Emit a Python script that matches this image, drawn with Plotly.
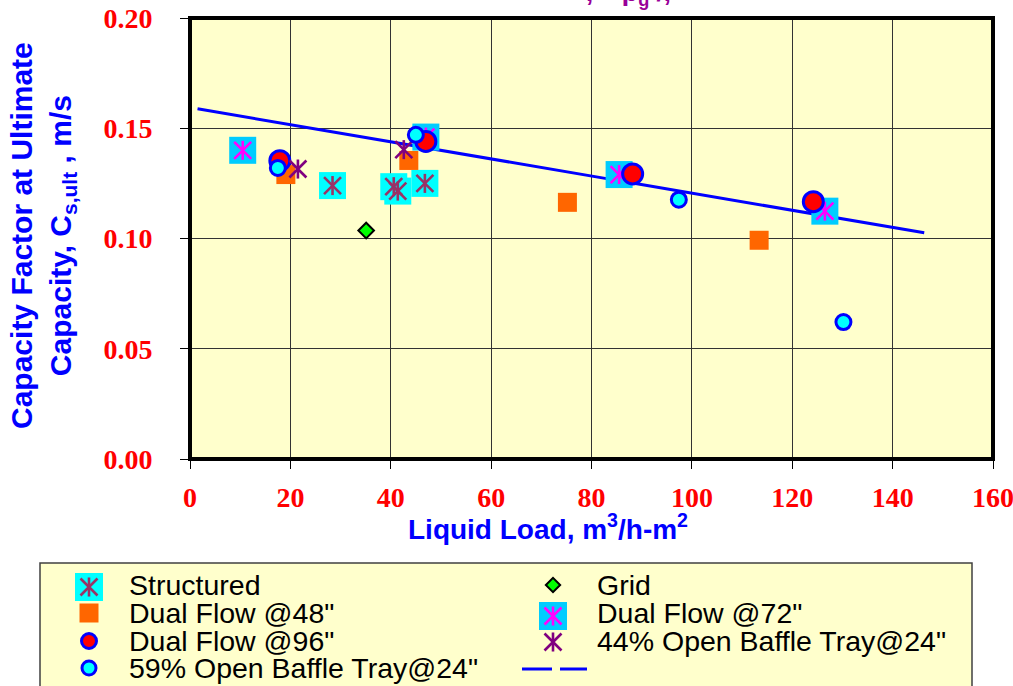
import plotly.graph_objects as go

# ---------------- data ----------------
structured_x = [28.4, 40.6, 41.4, 46.8]
structured_y = [0.124, 0.1235, 0.1215, 0.125]
grid_x = [35.1]
grid_y = [0.1036]
dual48_x = [19.1, 43.6, 75.2, 113.4]
dual48_y = [0.129, 0.1354, 0.1164, 0.0992]
dual72_x = [10.5, 47.0, 85.5, 126.5]
dual72_y = [0.140, 0.146, 0.129, 0.1124]
dual96_x = [17.9, 47.0, 88.2, 124.2]
dual96_y = [0.1353, 0.144, 0.1293, 0.1167]
open44_x = [21.5, 42.6]
open44_y = [0.1315, 0.1403]
open59_x = [17.5, 45.0, 97.4, 130.2]
open59_y = [0.132, 0.147, 0.1176, 0.0621]
trend_x = [1.5, 146.3]
trend_y = [0.1588, 0.1026]

x_ticks = [0, 20, 40, 60, 80, 100, 120, 140, 160]
y_ticks = [0.00, 0.05, 0.10, 0.15, 0.20]

series_names = ["Structured", "Grid", "Dual Flow @48\"", "Dual Flow @72\"",
                "Dual Flow @96\"", "44% Open Baffle Tray@24\"",
                "59% Open Baffle Tray@24\"", ""]

# ---------------- layout helpers ----------------
W, H = 1013, 686
PL, PR, PT, PB = 190, 993, 18, 459          # plot frame in pixels
LEG_L, LEG_R, LEG_T = 40, 972, 563          # legend box in pixels


def fx(p):
    return p / W


def fy(p):
    return (H - p) / H


CYAN = "#00FFFF"
SKY = "#00CCFF"
ORANGE = "#FF6600"
RED = "#FF0000"
BLUE = "#0000FF"
PLUM = "#993366"
MAGENTA = "#FF00FF"
PURPLE = "#800080"
GREEN = "#00FF00"
SANS = "Liberation Sans, Arial, sans-serif"
SERIF = "Liberation Serif, Times New Roman, serif"

fig = go.Figure()


def add_square(x, y, color, size, xa="x", ya="y"):
    fig.add_trace(go.Scatter(x=x, y=y, xaxis=xa, yaxis=ya, mode="markers",
                             marker=dict(symbol="square", size=size, color=color,
                                         line=dict(width=0)),
                             showlegend=False, hoverinfo="skip"))


def add_star(x, y, color, size, xa="x", ya="y"):
    # six-armed star: a thin X plus a vertical bar
    fig.add_trace(go.Scatter(x=x, y=y, xaxis=xa, yaxis=ya, mode="markers",
                             marker=dict(symbol="x-thin", size=size,
                                         line=dict(width=2.6, color=color)),
                             showlegend=False, hoverinfo="skip"))
    fig.add_trace(go.Scatter(x=x, y=y, xaxis=xa, yaxis=ya, mode="markers",
                             marker=dict(symbol="line-ns", size=size * 0.8,
                                         line=dict(width=2.6, color=color)),
                             showlegend=False, hoverinfo="skip"))


def add_ring(x, y, fill, size, xa="x", ya="y"):
    fig.add_trace(go.Scatter(x=x, y=y, xaxis=xa, yaxis=ya, mode="markers",
                             marker=dict(symbol="circle", size=size, color=fill,
                                         line=dict(width=3, color=BLUE)),
                             showlegend=False, hoverinfo="skip"))


def add_diamond(x, y, size, xa="x", ya="y"):
    fig.add_trace(go.Scatter(x=x, y=y, xaxis=xa, yaxis=ya, mode="markers",
                             marker=dict(symbol="diamond", size=size, color=GREEN,
                                         line=dict(width=2, color="black")),
                             showlegend=False, hoverinfo="skip"))


# ---------------- chart marks ----------------
fig.add_trace(go.Scatter(x=trend_x, y=trend_y, mode="lines",
                         line=dict(color=BLUE, width=3, dash="415px,7px"),
                         showlegend=False, hoverinfo="skip"))

add_square(structured_x, structured_y, CYAN, 27)
add_star(structured_x, structured_y, PLUM, 17)
add_diamond(grid_x, grid_y, 12)
add_square(dual48_x, dual48_y, ORANGE, 19)
add_square(dual72_x, dual72_y, SKY, 27)
add_star(dual72_x, dual72_y, MAGENTA, 17)
add_ring(dual96_x, dual96_y, RED, 20)
add_star(open44_x, open44_y, PURPLE, 17)
add_ring(open59_x, open59_y, CYAN, 15)

# ---------------- legend block (own pixel-scaled axes) ----------------
COL_SYM = [89, 553]
COL_TXT = [127, 595]
ROWS = [585, 613, 641, 668]

add_square([COL_SYM[0]], [ROWS[0] + 2], CYAN, 28, "x2", "y2")
add_star([COL_SYM[0]], [ROWS[0] + 2], PLUM, 17, "x2", "y2")
add_diamond([COL_SYM[1]], [ROWS[0]], 11, "x2", "y2")
add_square([COL_SYM[0]], [ROWS[1]], ORANGE, 19, "x2", "y2")
add_square([COL_SYM[1]], [ROWS[1] + 3], SKY, 28, "x2", "y2")
add_star([COL_SYM[1]], [ROWS[1] + 3], MAGENTA, 17, "x2", "y2")
add_ring([COL_SYM[0]], [ROWS[2]], RED, 15, "x2", "y2")
add_star([COL_SYM[1]], [ROWS[2] + 1], PURPLE, 17, "x2", "y2")
add_ring([COL_SYM[0]], [ROWS[3]], CYAN, 14, "x2", "y2")
fig.add_trace(go.Scatter(x=[522, 587], y=[ROWS[3] + 1, ROWS[3] + 1], xaxis="x2", yaxis="y2",
                         mode="lines", line=dict(color=BLUE, width=3, dash="30px,8px"),
                         showlegend=False, hoverinfo="skip"))

annotations = []
for i, name in enumerate(series_names):
    if not name:
        continue
    row, col = divmod(i, 2)
    annotations.append(dict(x=COL_TXT[col], y=ROWS[row], xref="x2", yref="y2",
                            text=name, showarrow=False, xanchor="left", yanchor="middle",
                            font=dict(family=SANS, size=28.5, color="black")))

# axis titles
annotations.append(dict(x=fx(548), y=fy(527), xref="paper", yref="paper",
                        text="<b>Liquid Load, m<sup>3</sup>/h-m<sup>2</sup></b>",
                        showarrow=False, xanchor="center", yanchor="middle",
                        font=dict(family=SANS, size=28, color=BLUE)))
annotations.append(dict(x=fx(43), y=fy(236), xref="paper", yref="paper",
                        text="<b>Capacity Factor at Ultimate<br>Capacity, C<sub>s,ult</sub> , m/s</b>",
                        textangle=-90, showarrow=False, xanchor="center", yanchor="middle",
                        font=dict(family=SANS, size=30, color=BLUE)))
# chart title (runs off the top edge)
annotations.append(dict(x=fx(628), y=fy(-6), xref="paper", yref="paper",
                        text="<b>,&nbsp;&nbsp;&nbsp;&nbsp;ρ<sub>g</sub>&nbsp;/,</b>",
                        showarrow=False, xanchor="center", yanchor="middle",
                        font=dict(family=SANS, size=26, color="#990099")))

shapes = [
    # plot frame
    dict(type="rect", xref="paper", yref="paper", x0=fx(PL), x1=fx(PR), y0=fy(PB), y1=fy(PT),
         line=dict(color="black", width=4), layer="above"),
    # legend frame
    dict(type="rect", xref="paper", yref="paper", x0=fx(LEG_L), x1=fx(LEG_R), y0=-0.05,
         y1=fy(LEG_T), line=dict(color="#404040", width=1.5), layer="below"),
]

fig.update_layout(
    template="none",
    width=W, height=H,
    margin=dict(l=0, r=0, t=0, b=0, autoexpand=False),
    paper_bgcolor="white",
    plot_bgcolor="#FFFFCC",
    showlegend=False,
    annotations=annotations,
    shapes=shapes,
    xaxis=dict(domain=[fx(PL), fx(PR)], range=[0, 160], tickvals=x_ticks,
               automargin=False, ticklabeloverflow="allow",
               showgrid=True, gridcolor="#333333", gridwidth=1, zeroline=False,
               showline=False, ticks="outside", ticklen=9, tickcolor="black", tickwidth=1,
               ticklabelstandoff=4,
               tickfont=dict(family=SERIF, size=28, color=RED, weight="bold")),
    yaxis=dict(domain=[fy(PB), fy(PT)], range=[0, 0.2], tickvals=y_ticks,
               tickformat=".2f", automargin=False,
               showgrid=True, gridcolor="#333333", gridwidth=1, zeroline=False,
               showline=False, ticks="outside", ticklen=9, tickcolor="black", tickwidth=1,
               ticklabelstandoff=22,
               tickfont=dict(family=SERIF, size=28, color=RED, weight="bold")),
    xaxis2=dict(domain=[fx(LEG_L), fx(LEG_R)], range=[LEG_L, LEG_R], visible=False,
                anchor="y2", fixedrange=True, automargin=False),
    yaxis2=dict(domain=[0, fy(LEG_T)], range=[H, LEG_T], visible=False,
                anchor="x2", fixedrange=True, automargin=False),
)

fig.write_html("out.html")
